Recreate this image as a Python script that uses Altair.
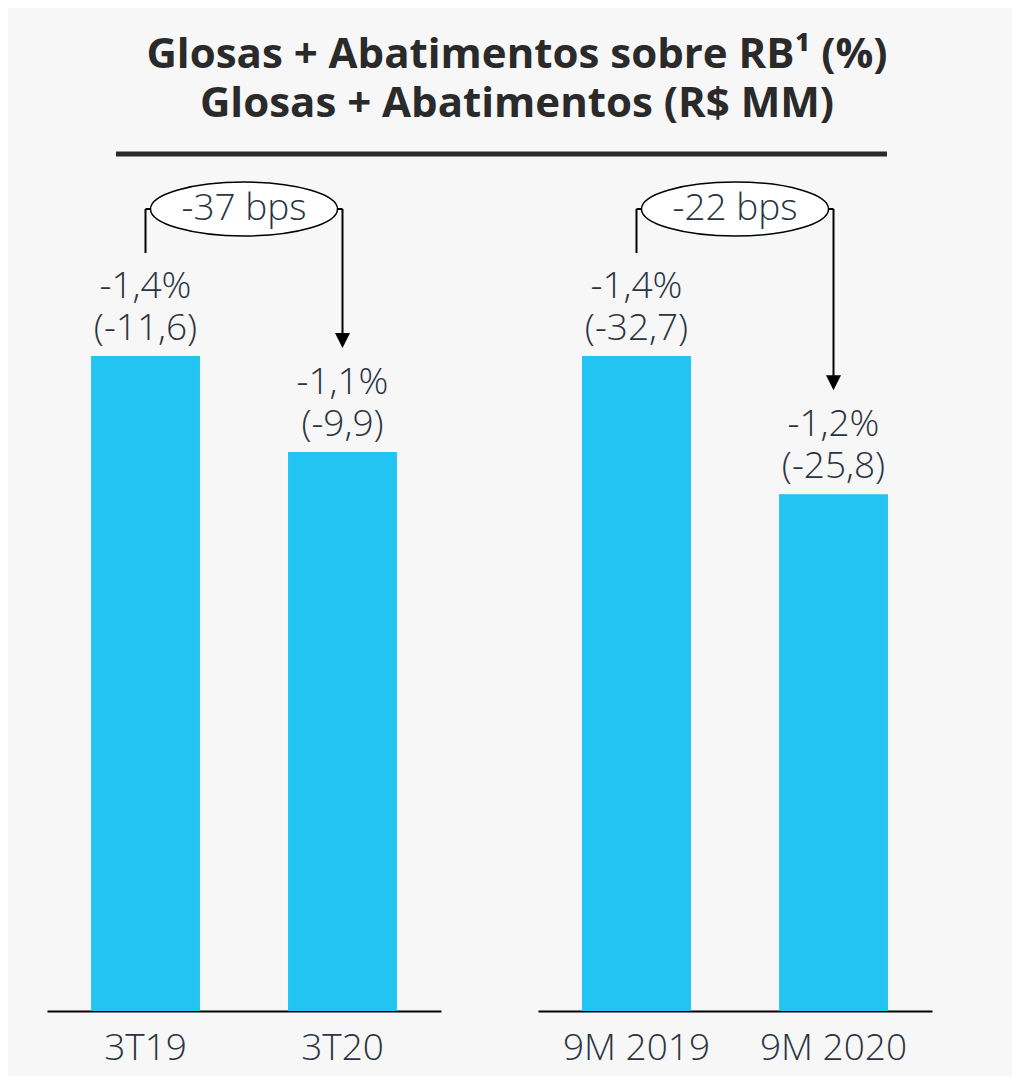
import altair as alt
import pandas as pd

# ---------------- data ----------------
TITLE_LINES = ["Glosas + Abatimentos sobre RB¹ (%)", "Glosas + Abatimentos (R$ MM)"]

Q_PERIODS = ["3T19", "3T20"]
Q_PCT = [-1.4, -1.1]
Q_VALUES = [-11.6, -9.9]
Q_DELTA = "-37 bps"

Y_PERIODS = ["9M 2019", "9M 2020"]
Y_PCT = [-1.4, -1.2]
Y_VALUES = [-32.7, -25.8]
Y_DELTA = "-22 bps"

# ---------------- style ----------------
BAR_COLOR = "#22C4F2"
TEXT_COLOR = "#2b3442"
TITLE_COLOR = "#2a2a2a"
BG = "#f7f7f7"
FONT = "Open Sans"
FS = 37
FW = 300

PANEL_W = 394
PANEL_H = 841
STEP = PANEL_W / 2
PX_PER_UNIT_Q = 655 / 11.6   # scale of the quarter panel
PX_PER_UNIT_Y = 655 / 32.7   # scale of the 9M panel

# ellipse path (unit box [-1,1]) built from cubic curves
RY = 54 / 187
K = 0.5523
kx, ky = K, K * RY
ELLIPSE = (f"M -1 0 C -1 {-ky:.4f} {-kx:.4f} {-RY:.4f} 0 {-RY:.4f} "
           f"C {kx:.4f} {-RY:.4f} 1 {-ky:.4f} 1 0 "
           f"C 1 {ky:.4f} {kx:.4f} {RY:.4f} 0 {RY:.4f} "
           f"C {-kx:.4f} {RY:.4f} -1 {ky:.4f} -1 0 Z")
TRIANGLE = "M -1 -1 L 1 -1 L 0 1 Z"


def fmt(v, pct):
    s = f"{v:.1f}".replace(".", ",")
    return f"{s}%" if pct else f"({s})"


def panel(periods, pcts, values, delta, px_per_unit):
    ymax = PANEL_H / px_per_unit
    df = pd.DataFrame({
        "period": periods,
        "value": values,
        "role": ["start", "end"],
        "label": [fmt(p, True) + "\n" + fmt(v, False) for p, v in zip(pcts, values)],
    })
    ann = pd.DataFrame({"from": [periods[0]], "to": [periods[1]], "delta": [delta]})

    xscale = alt.Scale(domain=periods, paddingInner=0.447, paddingOuter=0.2235)
    xaxis = alt.Axis(title=None, labelAngle=0, ticks=False, domainColor="black",
                     domainWidth=2, labelFont=FONT, labelFontSize=FS, labelFontWeight=FW,
                     labelColor=TEXT_COLOR, labelPadding=19)
    x = alt.X("period:N", scale=xscale, axis=xaxis)
    # bars grow upward with the magnitude of the (negative) values
    y = alt.Y("mag:Q", scale=alt.Scale(domain=[0, ymax], nice=False), axis=None)

    base = alt.Chart(df).transform_calculate(mag="-datum.value")
    bars = base.mark_bar(color=BAR_COLOR).encode(x=x, y=y)
    labels = base.mark_text(font=FONT, fontSize=FS, fontWeight=FW, color=TEXT_COLOR,
                            baseline="alphabetic", align="center", dy=-58, lineHeight=42,
                            lineBreak="\n").encode(x=x, y=y, text="label:N")
    start_rule = base.transform_filter(alt.datum.role == "start").mark_rule(
        color="black", strokeWidth=2, yOffset=-103).encode(x=x, y=y, y2=alt.value(39))
    end_rule = base.transform_filter(alt.datum.role == "end").mark_rule(
        color="black", strokeWidth=2, yOffset=-108).encode(x=x, y=y, y2=alt.value(39))
    arrow = base.transform_filter(alt.datum.role == "end").mark_point(
        shape=TRIANGLE, size=225, filled=True, color="black", opacity=1,
        yOffset=-111.5).encode(x=x, y=y)

    abase = alt.Chart(ann)
    xa = alt.X("from:N", scale=xscale, axis=xaxis)
    hrule = abase.mark_rule(color="black", strokeWidth=2).encode(
        x=xa, x2="to:N", y=alt.value(39))
    ellipse = abase.mark_point(shape=ELLIPSE, size=187 ** 2, filled=True, fill="white",
                               stroke="black", strokeWidth=1.5, opacity=1,
                               xOffset=STEP / 2).encode(x=xa, y=alt.value(39))
    dtext = abase.mark_text(font=FONT, fontSize=FS, fontWeight=FW, color=TEXT_COLOR,
                            baseline="middle", align="center", dx=STEP / 2).encode(
        x=xa, y=alt.value(39), text="delta:N")

    return alt.layer(bars, labels, start_rule, end_rule, hrule, ellipse, dtext, arrow).properties(
        width=PANEL_W, height=PANEL_H)


left = panel(Q_PERIODS, Q_PCT, Q_VALUES, Q_DELTA, PX_PER_UNIT_Q)
right = panel(Y_PERIODS, Y_PCT, Y_VALUES, Y_DELTA, PX_PER_UNIT_Y)

header_df = pd.DataFrame({"text": ["\n".join(TITLE_LINES)]})
hbase = alt.Chart(header_df)
title_text = hbase.mark_text(font=FONT, fontWeight="bold", fontSize=42, lineHeight=49,
                             color=TITLE_COLOR, baseline="alphabetic", align="center",
                             lineBreak="\n").encode(
    x=alt.value(470), y=alt.value(60), text="text:N")
title_rule = hbase.mark_rule(color=TITLE_COLOR, strokeWidth=5).encode(
    x=alt.value(69), x2=alt.value(840), y=alt.value(146))
header = alt.layer(title_text, title_rule).properties(width=885, height=162)

chart = alt.vconcat(
    header,
    alt.hconcat(left, right, spacing=97),
    spacing=0,
).properties(
    background=BG,
    padding={"left": 39, "top": 0, "right": 80, "bottom": 10},
).configure_view(stroke=None)

chart.save("out.html", embed_options={"renderer": "svg", "actions": False})
